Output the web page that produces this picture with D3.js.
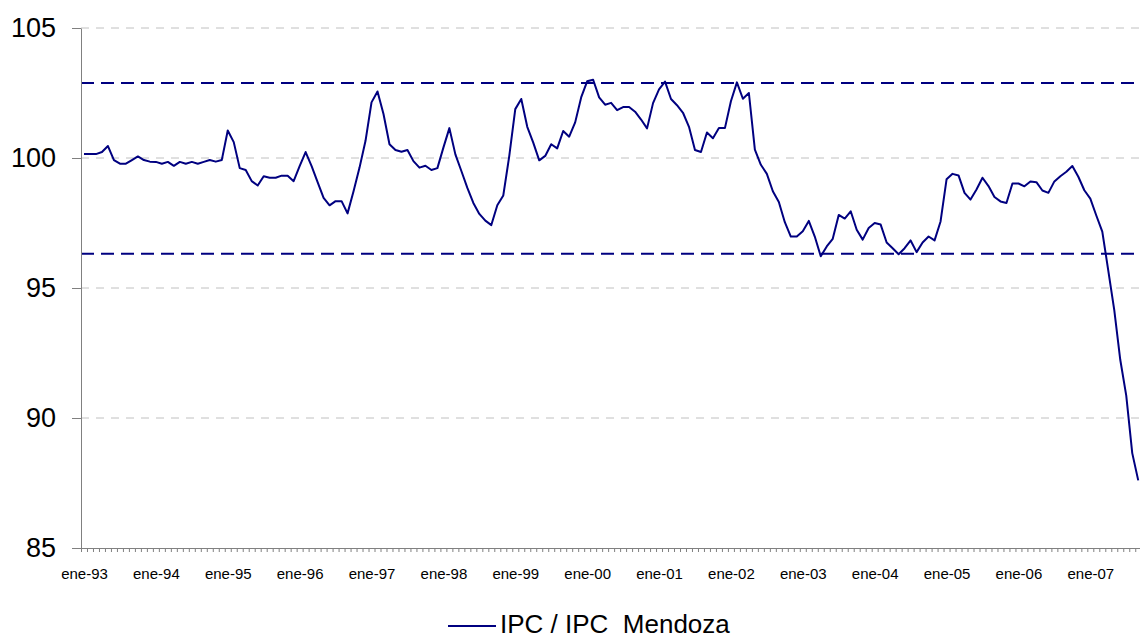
<!DOCTYPE html>
<html lang="es">
<head>
    <meta charset="UTF-8">
    <script src="https://d3js.org/d3.v7.min.js"></script>
    <title>IPC / IPC Mendoza</title>
    <style>
        body { margin: 0; background: #fff; }
        svg { display: block; font-family: Arial, "Liberation Sans", sans-serif; }
        .grid line { stroke: #c0c0c0; stroke-width: 1; stroke-dasharray: 8,7; }
        .axis path, .axis line { stroke: #808080; }
    </style>
</head>
<body>
    <svg width="1140" height="639"></svg>

    <script>
        // monthly series, ene-93 .. sep-07
        var values = [
            100.15, 100.15, 100.15, 100.23, 100.46, 99.92, 99.78, 99.78, 99.92, 100.06, 99.92, 99.86,
            99.85, 99.78, 99.85, 99.70, 99.85, 99.78, 99.85, 99.78, 99.85, 99.92, 99.86, 99.92,
            101.06, 100.61, 99.61, 99.54, 99.11, 98.94, 99.30, 99.24, 99.24, 99.32, 99.32, 99.11,
            99.69, 100.23, 99.69, 99.07, 98.47, 98.18, 98.34, 98.34, 97.87, 98.72, 99.63, 100.66,
            102.14, 102.56, 101.69, 100.53, 100.31, 100.24, 100.31, 99.88, 99.63, 99.70, 99.54, 99.61,
            100.40, 101.15, 100.14, 99.50, 98.85, 98.27, 97.85, 97.59, 97.42, 98.18, 98.56, 100.08,
            101.88, 102.27, 101.20, 100.59, 99.91, 100.08, 100.53, 100.37, 101.04, 100.82, 101.37, 102.33,
            102.95, 103.01, 102.33, 102.05, 102.12, 101.84, 101.96, 101.96, 101.78, 101.48, 101.14, 102.11,
            102.64, 102.94, 102.27, 102.03, 101.74, 101.20, 100.31, 100.23, 100.98, 100.76, 101.15, 101.15,
            102.18, 102.91, 102.28, 102.50, 100.32, 99.74, 99.39, 98.72, 98.31, 97.53, 96.98, 96.98,
            97.18, 97.58, 96.98, 96.22, 96.60, 96.89, 97.81, 97.67, 97.95, 97.24, 96.86, 97.31,
            97.50, 97.44, 96.75, 96.53, 96.30, 96.53, 96.83, 96.38, 96.75, 96.98, 96.83, 97.56,
            99.18, 99.39, 99.33, 98.66, 98.40, 98.79, 99.24, 98.92, 98.50, 98.33, 98.27, 99.02,
            99.02, 98.91, 99.10, 99.07, 98.75, 98.66, 99.10, 99.30, 99.47, 99.69, 99.28, 98.76,
            98.44, 97.79, 97.17, 95.67, 94.15, 92.24, 90.86, 88.65, 87.60
        ];
        var yearLabels = ["ene-93", "ene-94", "ene-95", "ene-96", "ene-97", "ene-98", "ene-99", "ene-00",
                          "ene-01", "ene-02", "ene-03", "ene-04", "ene-05", "ene-06", "ene-07"];
        var yTicks = [85, 90, 95, 100, 105];
        var bandLines = [96.32, 102.88];
        var seriesName = "IPC / IPC  Mendoza";

        var svg = d3.select('svg');
        var plotLeft = 81, plotTop = 28, plotBottom = 548;
        var monthWidth = 5.99;
        var n = values.length;

        var xScale = d3.scaleLinear().domain([-0.5, n - 0.5]).range([plotLeft, plotLeft + n * monthWidth]);
        var yScale = d3.scaleLinear().domain([85, 105]).range([plotBottom, plotTop]);

        // horizontal grid
        svg.append("g")
            .attr("class", "grid")
            .selectAll("line")
            .data(yTicks.filter(d => d > 85))
            .enter().append("line")
            .attr("x1", plotLeft)
            .attr("x2", 1140)
            .attr("y1", d => yScale(d))
            .attr("y2", d => yScale(d));

        // band limits
        svg.append("g")
            .selectAll("line")
            .data(bandLines)
            .enter().append("line")
            .attr("x1", plotLeft)
            .attr("x2", 1140)
            .attr("y1", d => yScale(d))
            .attr("y2", d => yScale(d))
            .attr("stroke", "#000080")
            .attr("stroke-width", 2)
            .attr("stroke-dasharray", "13,7");

        // y axis
        var yAxis = svg.append("g")
            .attr("class", "axis")
            .attr("transform", "translate(" + plotLeft + ",0)")
            .call(d3.axisLeft(yScale).tickValues(yTicks).tickSize(9).tickPadding(16).tickSizeOuter(0));
        yAxis.selectAll("text")
            .attr("fill", "#000")
            .style("font-size", "27px");

        // x axis: monthly ticks between categories
        var boundaries = d3.range(n + 1).map(k => k - 0.5);
        svg.append("g")
            .attr("class", "axis")
            .attr("transform", "translate(0," + plotBottom + ")")
            .call(d3.axisBottom(xScale).tickValues(boundaries).tickFormat("").tickSize(4).tickSizeOuter(0));

        // year labels
        var labelAxis = svg.append("g")
            .attr("transform", "translate(0," + plotBottom + ")")
            .call(d3.axisBottom(xScale)
                .tickValues(yearLabels.map((d, i) => i * 12))
                .tickFormat((d, i) => yearLabels[i])
                .tickSize(0)
                .tickPadding(20));
        labelAxis.select(".domain").remove();
        labelAxis.selectAll("text")
            .attr("fill", "#000")
            .style("font-size", "15px");

        // series line
        var line = d3.line()
            .x((d, i) => xScale(i))
            .y(d => yScale(d));

        svg.append("path")
            .datum(values)
            .attr("fill", "none")
            .attr("stroke", "#000080")
            .attr("stroke-width", 2)
            .attr("stroke-linejoin", "round")
            .attr("d", line);

        // legend
        var legend = svg.append("g").attr("transform", "translate(448,626)");
        legend.append("line")
            .attr("x1", 0).attr("x2", 48)
            .attr("stroke", "#000080")
            .attr("stroke-width", 2);
        legend.append("text")
            .attr("x", 52)
            .attr("y", 7)
            .style("font-size", "26px")
            .style("white-space", "pre")
            .attr("xml:space", "preserve")
            .text(seriesName);
    </script>
</body>
</html>
